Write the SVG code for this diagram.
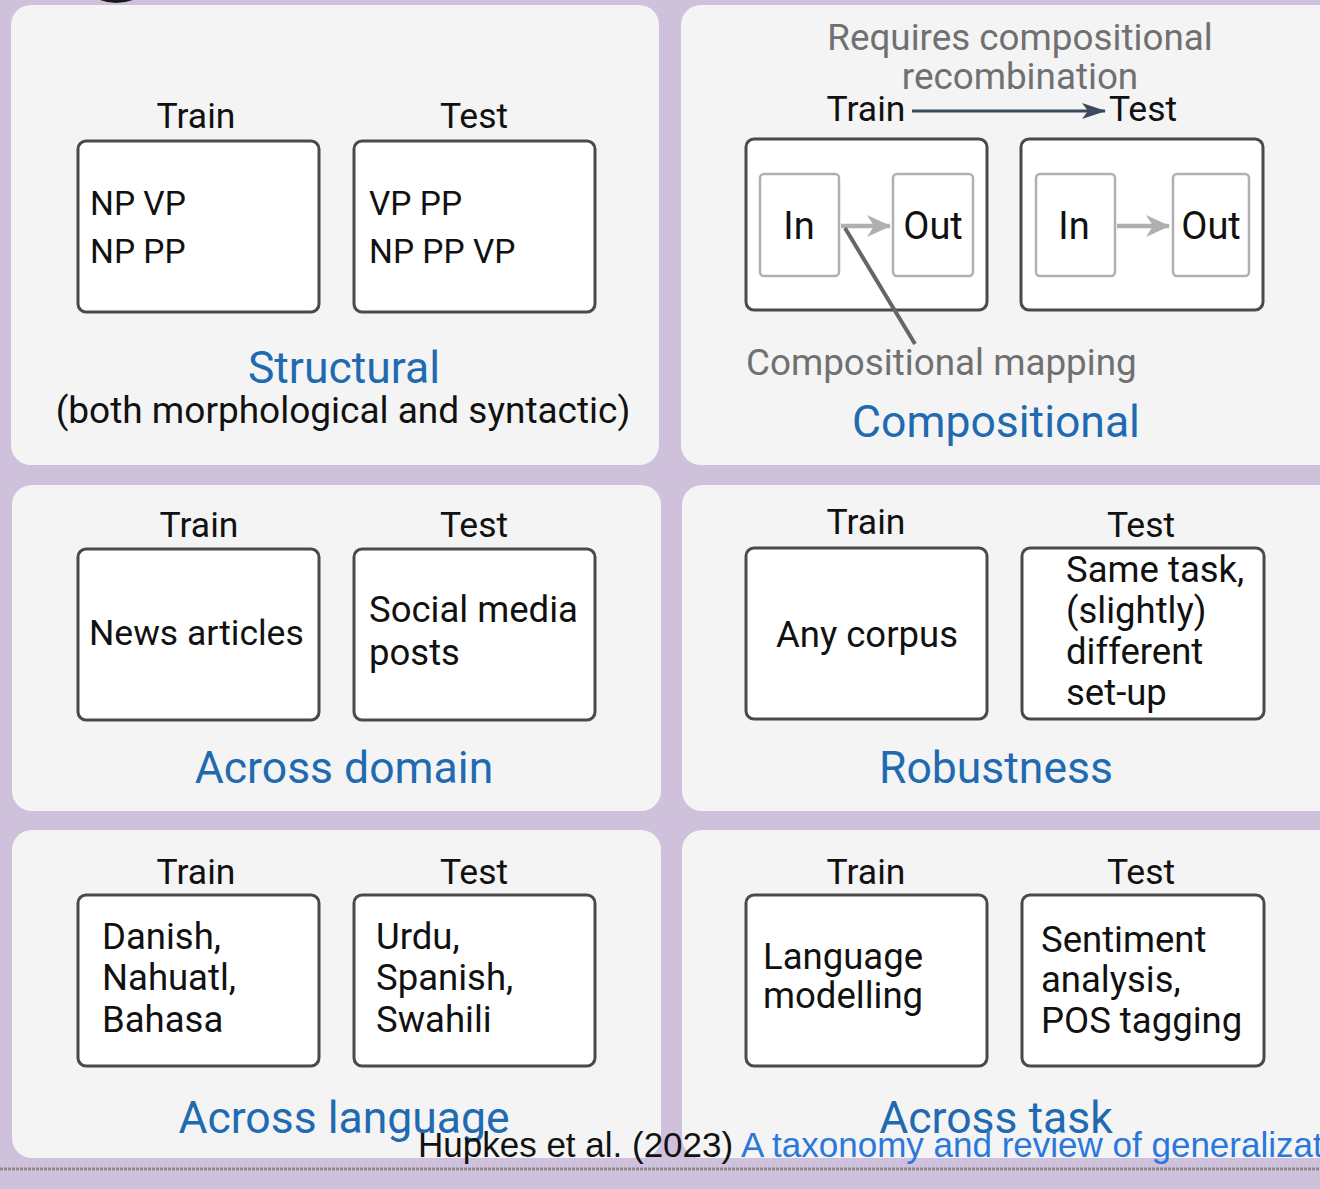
<svg xmlns="http://www.w3.org/2000/svg" width="1320" height="1189" viewBox="0 0 1320 1189">
  <defs>
    <style>
      .panel { fill: #f4f4f4; }
      .box { fill: #ffffff; stroke: #4a4a4a; stroke-width: 3; }
      .inner { fill: #ffffff; stroke: #b0b0b0; stroke-width: 2.5; }
      .t { font-family: Roboto, "Noto Sans", "Liberation Sans", sans-serif; fill: #111111; }
      .hdr { font-size: 35.5px; text-anchor: middle; }
      .sub { font-size: 37px; text-anchor: middle; }
      .body { font-size: 36.5px; }
      .caps { font-size: 33.5px; }
      .io { font-size: 38px; text-anchor: middle; }
      .title { font-size: 44.5px; fill: #1f6ab0; text-anchor: middle; }
      .note { font-size: 36.8px; fill: #707070; }
      .cite { font-family: "Liberation Sans", Arial, sans-serif; font-size: 35px; }
    </style>
    <marker id="arrowDark" viewBox="0 0 24 16" refX="23" refY="8" markerWidth="24" markerHeight="16" orient="auto" markerUnits="userSpaceOnUse">
      <path d="M0,0 L24,8 L0,16 L6,8 Z" fill="#3b4a5c"/>
    </marker>
    <marker id="arrowGrey" viewBox="0 0 24 22" refX="23" refY="11" markerWidth="24" markerHeight="22" orient="auto" markerUnits="userSpaceOnUse">
      <path d="M0,0 L24,11 L0,22 L7,11 Z" fill="#b0b0b0"/>
    </marker>
  </defs>

  <!-- backdrop -->
  <rect x="0" y="0" width="1320" height="1189" fill="#cfc0dc"/>
  <!-- clipped glyph tail from a heading above the frame -->
  <path d="M100,0 Q116,6 133,0 Z" fill="#1a1a1a"/>

  <!-- Structural -->
  <g id="structural">
    <rect class="panel" x="11" y="5" width="648" height="460" rx="20"/>
    <text class="t hdr" x="196" y="128">Train</text>
    <text class="t hdr" x="474" y="128">Test</text>
    <rect class="box" x="78" y="141" width="241" height="171" rx="8"/>
    <rect class="box" x="354" y="141" width="241" height="171" rx="8"/>
    <text class="t caps" x="90" y="215">NP VP</text>
    <text class="t caps" x="90" y="263">NP PP</text>
    <text class="t caps" x="369" y="215">VP PP</text>
    <text class="t caps" x="369" y="263">NP PP VP</text>
    <text class="t title" x="344" y="383">Structural</text>
    <text class="t sub" x="343" y="423">(both morphological and syntactic)</text>
  </g>

  <!-- Compositional -->
  <g id="compositional">
    <rect class="panel" x="681" y="5" width="660" height="460" rx="20"/>
    <text class="t note" x="1020" y="50" text-anchor="middle">Requires compositional</text>
    <text class="t note" x="1020" y="89" text-anchor="middle">recombination</text>
    <text class="t hdr" x="866" y="121">Train</text>
    <text class="t hdr" x="1143" y="121">Test</text>
    <rect class="box" x="746" y="139" width="241" height="171" rx="8"/>
    <rect class="box" x="1021" y="139" width="242" height="171" rx="8"/>
    <rect class="inner" x="760" y="174" width="79" height="102" rx="4"/>
    <rect class="inner" x="893" y="174" width="80" height="102" rx="4"/>
    <rect class="inner" x="1036" y="174" width="79" height="102" rx="4"/>
    <rect class="inner" x="1173" y="174" width="76" height="102" rx="4"/>
    <text class="t io" x="799" y="239">In</text>
    <text class="t io" x="933" y="239">Out</text>
    <text class="t io" x="1074" y="239">In</text>
    <text class="t io" x="1211" y="239">Out</text>
    <text class="t note" x="746" y="375">Compositional mapping</text>
    <text class="t title" x="996" y="437">Compositional</text>
  </g>

  <!-- Across domain -->
  <g id="across-domain">
    <rect class="panel" x="12" y="485" width="649" height="326" rx="20"/>
    <text class="t hdr" x="199" y="537">Train</text>
    <text class="t hdr" x="474" y="537">Test</text>
    <rect class="box" x="78" y="549" width="241" height="171" rx="8"/>
    <rect class="box" x="354" y="549" width="241" height="171" rx="8"/>
    <text class="t body" x="89" y="645" style="font-size:35.5px">News articles</text>
    <text class="t body" x="369" y="622">Social media</text>
    <text class="t body" x="369" y="665">posts</text>
    <text class="t title" x="344" y="783">Across domain</text>
  </g>

  <!-- Robustness -->
  <g id="robustness">
    <rect class="panel" x="682" y="485" width="660" height="326" rx="20"/>
    <text class="t hdr" x="866" y="534">Train</text>
    <text class="t hdr" x="1141" y="537">Test</text>
    <rect class="box" x="746" y="548" width="241" height="171" rx="8"/>
    <rect class="box" x="1022" y="548" width="242" height="171" rx="8"/>
    <text class="t body" x="867" y="647" text-anchor="middle">Any corpus</text>
    <text class="t body" x="1066" y="582">Same task,</text>
    <text class="t body" x="1066" y="623">(slightly)</text>
    <text class="t body" x="1066" y="664">different</text>
    <text class="t body" x="1066" y="705">set-up</text>
    <text class="t title" x="996" y="783">Robustness</text>
  </g>

  <!-- Across language -->
  <g id="across-language">
    <rect class="panel" x="12" y="830" width="649" height="328" rx="20"/>
    <text class="t hdr" x="196" y="884">Train</text>
    <text class="t hdr" x="474" y="884">Test</text>
    <rect class="box" x="78" y="895" width="241" height="171" rx="8"/>
    <rect class="box" x="354" y="895" width="241" height="171" rx="8"/>
    <text class="t body" x="102" y="949">Danish,</text>
    <text class="t body" x="102" y="990">Nahuatl,</text>
    <text class="t body" x="102" y="1032">Bahasa</text>
    <text class="t body" x="376" y="949">Urdu,</text>
    <text class="t body" x="376" y="990">Spanish,</text>
    <text class="t body" x="376" y="1032">Swahili</text>
    <text class="t title" x="344" y="1133">Across language</text>
  </g>

  <!-- Across task -->
  <g id="across-task">
    <rect class="panel" x="682" y="830" width="660" height="328" rx="20"/>
    <text class="t hdr" x="866" y="884">Train</text>
    <text class="t hdr" x="1141" y="884">Test</text>
    <rect class="box" x="746" y="895" width="241" height="171" rx="8"/>
    <rect class="box" x="1022" y="895" width="242" height="171" rx="8"/>
    <text class="t body" x="763" y="969">Language</text>
    <text class="t body" x="763" y="1008">modelling</text>
    <text class="t body" x="1041" y="952">Sentiment</text>
    <text class="t body" x="1041" y="992">analysis,</text>
    <text class="t body" x="1041" y="1033">POS tagging</text>
    <text class="t title" x="996" y="1133">Across task</text>
  </g>

  <!-- connectors -->
  <g id="connectors">
    <line x1="912" y1="111" x2="1105" y2="111" stroke="#3b4a5c" stroke-width="3" marker-end="url(#arrowDark)"/>
    <line x1="841" y1="226" x2="890" y2="226" stroke="#b0b0b0" stroke-width="4.5" marker-end="url(#arrowGrey)"/>
    <line x1="1117" y1="226" x2="1169" y2="226" stroke="#b0b0b0" stroke-width="4.5" marker-end="url(#arrowGrey)"/>
    <line x1="845" y1="228" x2="915" y2="344" stroke="#666666" stroke-width="4"/>
  </g>

  <!-- citation line -->
  <line x1="0" y1="1169" x2="1320" y2="1169" stroke="#8a8a8a" stroke-width="3" stroke-dasharray="3 1"/>
  <text class="cite" x="418" y="1157"><tspan fill="#111111">Hupkes et al. (2023) </tspan><tspan fill="#2a78dc">A taxonomy and review of generalization research in NLP</tspan></text>
</svg>
